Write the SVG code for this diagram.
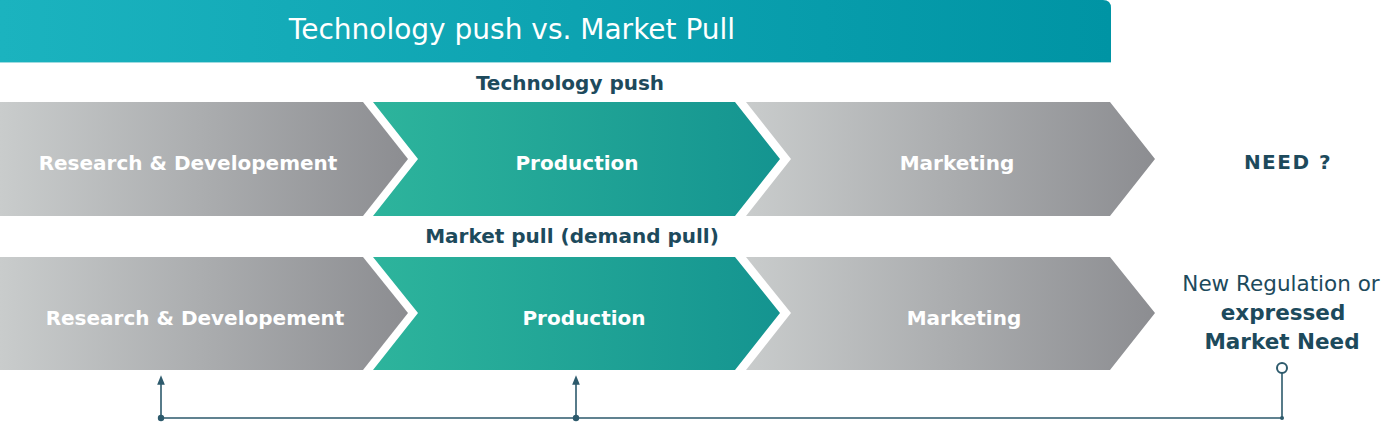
<svg xmlns="http://www.w3.org/2000/svg" width="1389" height="429" viewBox="0 0 1389 429">
<defs>
<linearGradient id="hdr" x1="0" y1="0" x2="1" y2="0"><stop offset="0" stop-color="#1bb3bf"/><stop offset="1" stop-color="#0094a4"/></linearGradient>
<linearGradient id="gray" x1="0" y1="0" x2="1" y2="0"><stop offset="0" stop-color="#c9cccc"/><stop offset="1" stop-color="#8c8d91"/></linearGradient>
<linearGradient id="green" x1="0" y1="0" x2="1" y2="0"><stop offset="0" stop-color="#2db49c"/><stop offset="1" stop-color="#149490"/></linearGradient>
<marker id="arr" viewBox="0 0 10 10" refX="5" refY="5" markerWidth="6" markerHeight="6" orient="auto"><path d="M0,1 L10,5 L0,9 z" fill="#2d5a6c"/></marker>
<marker id="dot" viewBox="0 0 10 10" refX="5" refY="5" markerWidth="5" markerHeight="5"><circle cx="5" cy="5" r="4" fill="#2d5a6c"/></marker>
<style>
.w{fill:#fff;font-family:"DejaVu Sans","Liberation Sans",sans-serif;font-weight:700;font-size:20px;text-anchor:middle}
.d{fill:#1d4a5c;font-family:"DejaVu Sans","Liberation Sans",sans-serif;font-weight:700;font-size:20px;text-anchor:middle}
.n{font-size:21.5px}
.r{font-weight:400}
.ln{stroke:#2d5a6c;stroke-width:1.6;fill:none}
</style>
</defs>
<g id="header">
<path d="M0,0 H1103 Q1111,0 1111,8 V62 H0 Z" fill="url(#hdr)"/>
<line x1="0" y1="62.5" x2="1111" y2="62.5" stroke="#9fdbe0" stroke-width="1"/>
<text x="512" y="39" fill="#fff" font-family="'DejaVu Sans','Liberation Sans',sans-serif" font-size="28" text-anchor="middle">Technology push vs. Market Pull</text>
</g>
<text class="d" x="570" y="90">Technology push</text>
<g id="rd1">
<polygon points="0,102 363,102 408,159 363,216 0,216" fill="url(#gray)"/>
<text class="w" x="188" y="170">Research &amp; Developement</text>
</g>
<g id="prod1">
<polygon points="373,102 735,102 780,159 735,216 373,216 418,159" fill="url(#green)"/>
<text class="w" x="577" y="170">Production</text>
</g>
<g id="mkt1">
<polygon points="746,102 1110,102 1155,159 1110,216 746,216 791,159" fill="url(#gray)"/>
<text class="w" x="957" y="170">Marketing</text>
</g>
<g id="need">
<text class="d" x="1288" y="169" letter-spacing="1.5">NEED ?</text>
</g>
<text class="d" x="572" y="243">Market pull (demand pull)</text>
<g id="rd2">
<polygon points="0,257 363,257 408,313 363,370 0,370" fill="url(#gray)"/>
<text class="w" x="195" y="325">Research &amp; Developement</text>
</g>
<g id="prod2">
<polygon points="373,257 735,257 780,313 735,370 373,370 418,313" fill="url(#green)"/>
<text class="w" x="584" y="325">Production</text>
</g>
<g id="mkt2">
<polygon points="746,257 1110,257 1155,313 1110,370 746,370 791,313" fill="url(#gray)"/>
<text class="w" x="964" y="325">Marketing</text>
</g>
<g id="regulation">
<text class="d n" x="1281" y="291"><tspan class="r">New Regulation or</tspan></text>
<text class="d n" x="1283" y="320">expressed</text>
<text class="d n" x="1282" y="349">Market Need</text>
<circle cx="1282" cy="368" r="5" fill="#fff" stroke="#2d5a6c" stroke-width="2"/>
</g>
<g id="connectors">
<path class="ln" d="M1282,373 V418 H161"/>
<path class="ln" d="M161,418 V380" marker-start="url(#dot)" marker-end="url(#arr)"/>
<path class="ln" d="M576,418 V380" marker-start="url(#dot)" marker-end="url(#arr)"/>
<circle cx="1282" cy="418" r="2" fill="#2d5a6c"/>
</g>
</svg>
